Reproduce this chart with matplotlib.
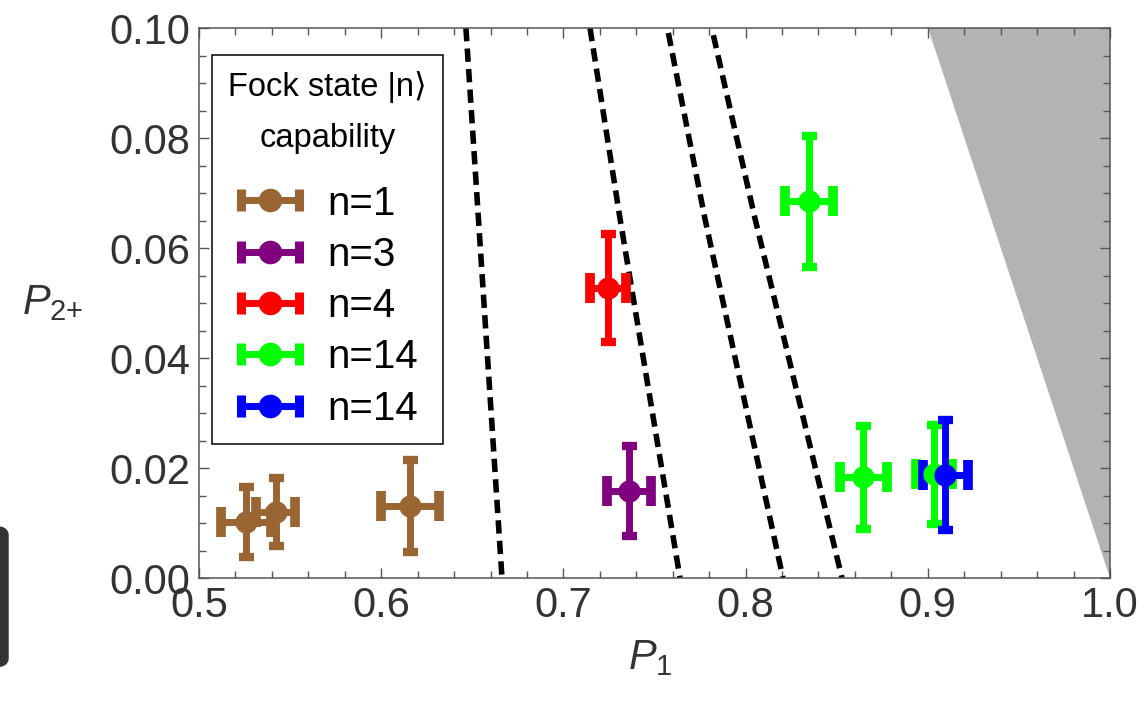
import numpy as np
import matplotlib
matplotlib.use("Agg")
import matplotlib.pyplot as plt
from matplotlib.container import ErrorbarContainer
from matplotlib.legend_handler import HandlerErrorbar
from matplotlib.patches import FancyBboxPatch
from matplotlib.ticker import MultipleLocator

plt.rcParams['font.family'] = ['Liberation Sans', 'DejaVu Sans']
plt.rcParams['mathtext.fontset'] = 'custom'
plt.rcParams['mathtext.it'] = 'Liberation Sans:italic'
plt.rcParams['mathtext.rm'] = 'Liberation Sans'

# measured points: P1, P2+, and their errors
labels = ['n=1', 'n=3', 'n=4', 'n=14', 'n=14']
colors = ['#996633', '#800080', '#ff0000', '#00ff00', '#0000ff']

p1 = [
    [0.526, 0.542, 0.6158],
    [0.736],
    [0.7246],
    [0.8348, 0.8647, 0.9032],
    [0.9097],
]
p2 = [
    [0.0102, 0.0120, 0.0131],
    [0.0158],
    [0.0528],
    [0.0685, 0.0183, 0.0189],
    [0.0188],
]
dp1 = [
    [0.0137, 0.0105, 0.0157],
    [0.0120],
    [0.0100],
    [0.0133, 0.0128, 0.0099],
    [0.0125],
]
dp2 = [
    [0.0064, 0.0062, 0.0084],
    [0.0082],
    [0.0098],
    [0.0119, 0.0094, 0.0090],
    [0.0100],
]

# dashed boundaries (P1 values at given P2+ values)
bound_p1 = [
    [0.6465, 0.6663],
    [0.7146, 0.7311, 0.7640],
    [0.7576, 0.7777, 0.8205],
    [0.7823, 0.8052, 0.8529],
]
bound_p2 = [
    [0.1, 0.0],
    [0.1, 0.0653, 0.0],
    [0.0991, 0.0653, 0.0],
    [0.0987, 0.0653, 0.0],
]

# forbidden region P1 + P2+ > 1
shade_p1 = [0.9, 1.0, 1.0]
shade_p2 = [0.1, 0.1, 0.0]

fig = plt.figure(figsize=(11.46, 7.02), dpi=100)
ax = fig.add_axes([199 / 1146, 1 - 578 / 702, 911 / 1146, 550 / 702])

ax.fill(shade_p1, shade_p2, color='#b3b3b3', lw=0, zorder=1)

for bx, by in zip(bound_p1, bound_p2):
    ax.plot(bx, by, color='black', lw=4, dashes=(2.4, 1.3), zorder=2)

for x, y, ex, ey, c in zip(p1, p2, dp1, dp2, colors):
    ax.errorbar(x, y, yerr=ey, fmt='none', ecolor=c, elinewidth=5,
                capsize=5.4, capthick=6, zorder=3)
    ax.errorbar(x, y, xerr=ex, fmt='o', color=c, ms=15, elinewidth=5,
                capsize=10.8, capthick=7, zorder=3)

# legend proxies (horizontal bar only)
for lab, c in zip(labels, colors):
    ax.errorbar([np.nan], [np.nan], xerr=[0.01], fmt='o', color=c, ms=16,
                elinewidth=5, capsize=8, capthick=6.5, label=lab)

ax.set_xlim(0.5, 1.0)
ax.set_ylim(0.0, 0.1)
ax.xaxis.set_minor_locator(MultipleLocator(0.02))
ax.yaxis.set_minor_locator(MultipleLocator(0.005))
ax.set_xticks([0.5, 0.6, 0.7, 0.8, 0.9, 1.0])
ax.set_xticklabels(['0.5', '0.6', '0.7', '0.8', '0.9', '1.0'])
ax.set_yticks([0.0, 0.02, 0.04, 0.06, 0.08, 0.10])
ax.set_yticklabels(['0.00', '0.02', '0.04', '0.06', '0.08', '0.10'])

ax.tick_params(which='both', direction='in', top=True, right=True,
               color='#555555', labelcolor='#333333', labelsize=30, pad=6)
ax.tick_params(which='major', length=7, width=1)
ax.tick_params(which='minor', length=5, width=1)
for s in ax.spines.values():
    s.set_color('#555555')
    s.set_linewidth(1.1)

ax.set_xlabel(r'$P_1$', fontsize=30, color='#333333')
ax.xaxis.set_label_coords(0.495, -0.11)
ax.set_ylabel(r'$P_{2{+}}$', fontsize=30, color='#333333', rotation=0,
              ha='center', va='center')
ax.yaxis.set_label_coords(-0.161, 0.5)

leg = ax.legend(loc='upper left', bbox_to_anchor=(0.0143, 0.951),
                borderaxespad=0, fontsize=29, title='Fock state |n\u27e9\ncapability',
                title_fontsize=23.5, handlelength=1.65, handletextpad=0.6,
                labelspacing=0.33, borderpad=0.4, fancybox=False,
                framealpha=1, edgecolor='black',
                handler_map={ErrorbarContainer: HandlerErrorbar(xerr_size=0.72)})
leg.get_frame().set_linewidth(1.1)
leg.get_title().set_linespacing(1.83)
leg.get_title().set_multialignment('center')
leg.get_title().set_fontfamily(['Liberation Sans', 'DejaVu Sans'])
leg._legend_box.sep = 22  # gap between title and entries, points

# piece of the neighbouring panel cut at the left edge
fig.patches.append(FancyBboxPatch((-0.03, 0.05), 0.037, 0.2,
                                  boxstyle='round,pad=0,rounding_size=0.012',
                                  transform=fig.transFigure, color='#333333'))

fig.savefig('out.png', dpi=100)
